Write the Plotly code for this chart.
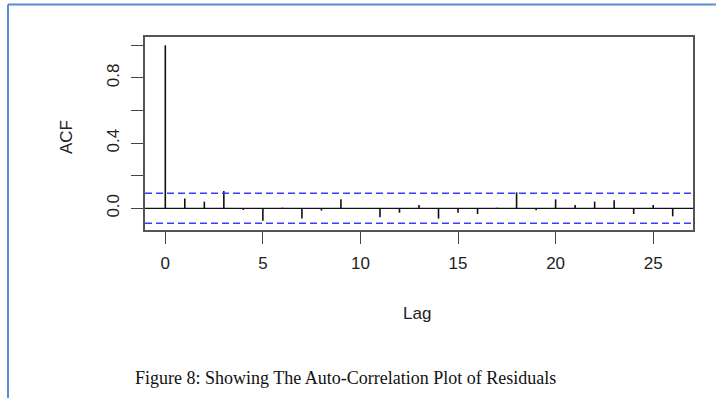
import plotly.graph_objects as go

lags = list(range(0, 27))
acf_values = [1.0, 0.061, 0.041, 0.106, -0.010, -0.076, 0.004, -0.063, -0.014, 0.055,
              -0.004, -0.055, -0.027, 0.020, -0.063, -0.027, -0.035, 0.003, 0.098, -0.012,
              0.055, 0.020, 0.041, 0.049, -0.035, 0.020, -0.049]
conf_bound = 0.092
x_ticks = [0, 5, 10, 15, 20, 25]
y_ticks = [0.0, 0.2, 0.4, 0.6, 0.8, 1.0]
y_tick_labels = ["0.0", "", "0.4", "", "0.8", ""]
caption = "Figure 8: Showing The Auto-Correlation Plot of Residuals"

xs, ys = [], []
for k, v in zip(lags, acf_values):
    xs += [k, k, None]
    ys += [0, v, None]

fig = go.Figure()
fig.add_trace(go.Scatter(x=xs, y=ys, mode="lines",
                         line=dict(color="#111111", width=1.6), hoverinfo="skip"))

xr = [-1.04, 27.04]
fig.add_trace(go.Scatter(x=xr, y=[0, 0], mode="lines",
                         line=dict(color="#111111", width=1.3), hoverinfo="skip"))
for b in (conf_bound, -conf_bound):
    fig.add_trace(go.Scatter(x=xr, y=[b, b], mode="lines",
                             line=dict(color="#3b3bff", width=1.4, dash="7px,4px"),
                             hoverinfo="skip"))

axis_font = dict(family="Liberation Sans, Arial, sans-serif", size=17, color="#222222")

fig.update_layout(
    width=716, height=398,
    margin=dict(l=145, r=23, t=37, b=168),
    paper_bgcolor="white", plot_bgcolor="white",
    showlegend=False,
    xaxis=dict(range=xr, tickvals=x_ticks, ticktext=[str(t) for t in x_ticks],
               ticks="outside", ticklen=12, tickwidth=1.2, tickcolor="#444444",
               ticklabelstandoff=5,
               showgrid=False, zeroline=False, showline=True, linecolor="#555555",
               linewidth=1.5, mirror=True, tickfont=axis_font),
    yaxis=dict(range=[-0.133, 1.051], tickvals=y_ticks, ticktext=y_tick_labels,
               ticks="outside", ticklen=12, tickwidth=1.2, tickcolor="#444444",
               ticklabelstandoff=5,
               showgrid=False, zeroline=False, showline=True, linecolor="#555555",
               linewidth=1.5, mirror=True, tickangle=-90, tickfont=axis_font),
    font=axis_font,
)

fig.add_annotation(text="Lag", xref="paper", yref="paper", x=(417 - 145) / 548,
                   y=-(313 - 230) / 193, showarrow=False, font=axis_font,
                   xanchor="center", yanchor="middle")
fig.add_annotation(text="ACF", xref="paper", yref="paper", x=-(145 - 66) / 548,
                   y=(230 - 137) / 193, showarrow=False, font=axis_font, textangle=-90,
                   xanchor="center", yanchor="middle")
fig.add_annotation(text=caption, xref="paper", yref="paper", x=(345 - 145) / 548,
                   y=-(378 - 230) / 193, showarrow=False,
                   font=dict(family="Liberation Serif, Times New Roman, serif", size=18,
                             color="#111111"),
                   xanchor="center", yanchor="middle")

# page frame lines (top and left)
fig.add_shape(type="line", xref="paper", yref="paper", x0=-(145 - 8) / 548, x1=(716 - 145) / 548,
              y0=(230 - 4.5) / 193, y1=(230 - 4.5) / 193, line=dict(color="#5b8bd0", width=2))
fig.add_shape(type="line", xref="paper", yref="paper", x0=-(145 - 8) / 548, x1=-(145 - 8) / 548,
              y0=(230 - 4.5) / 193, y1=-(398 - 230) / 193, line=dict(color="#5b8bd0", width=2))

fig.write_html("out.html", config={"displayModeBar": False},
               post_script="document.body.style.margin='0';document.body.style.overflow='hidden';")
